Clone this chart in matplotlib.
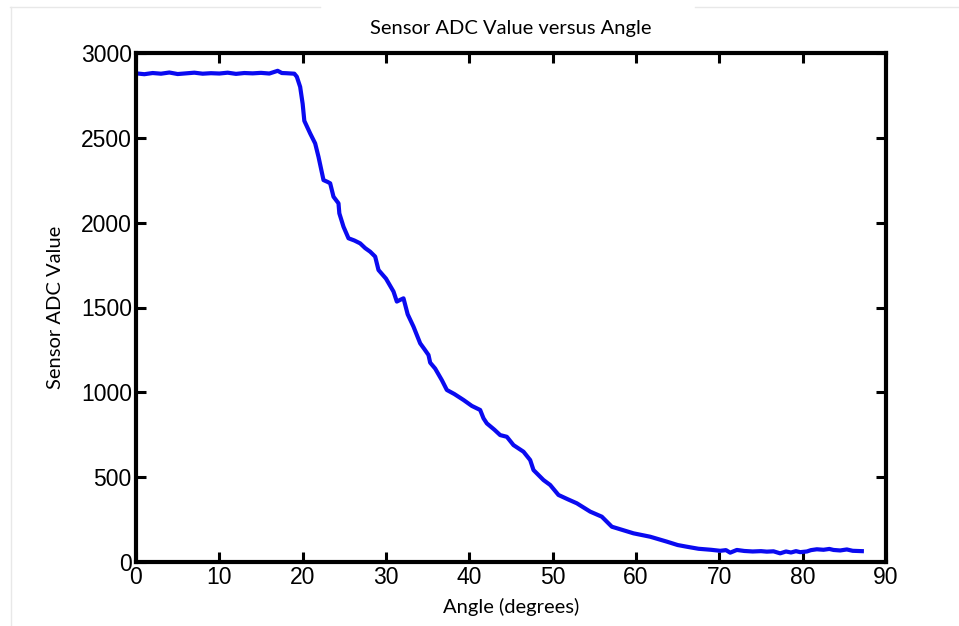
import matplotlib
matplotlib.use("Agg")
import matplotlib.pyplot as plt
from matplotlib.lines import Line2D

angle = [0, 1, 2, 3, 4, 5, 6, 7, 8, 9, 10, 11, 12, 13, 14, 15, 16, 17, 17.5, 18, 19,
         19.3, 19.7, 20.0, 20.2, 20.9, 21.5, 21.9, 22.5, 23.0, 23.3, 23.7, 24.3, 24.4,
         24.9, 25.5, 26.2, 26.9, 27.5, 28.1, 28.7, 29.1, 30.0, 30.9, 31.3, 31.7, 32.1,
         32.6, 33.3, 34.1, 34.6, 35.1, 35.3, 35.9, 36.7, 37.3, 38.2, 39.3, 40.3, 41.3,
         41.7, 42.1, 43.0, 43.7, 44.5, 45.3, 46.5, 47.3, 47.7, 48.9, 49.7, 50.7, 51.8,
         52.9, 54.5, 55.9, 57.1, 58.3, 59.7, 61.7, 63.7, 65.0, 66.1, 67.5, 69.0, 70.1,
         70.8, 71.3, 72.1, 73.0, 74.0, 75.0, 75.7, 76.5, 77.3, 78.0, 78.6, 79.2, 79.7,
         80.5, 81.0, 81.7, 82.5, 83.2, 83.7, 84.5, 85.3, 86.0, 87.1]
adc = [2880, 2875, 2882, 2878, 2885, 2876, 2880, 2884, 2878, 2881, 2879, 2884, 2877,
       2882, 2880, 2883, 2879, 2895, 2882, 2881, 2878,
       2860, 2800, 2700, 2600, 2526, 2467, 2388, 2251, 2240, 2232, 2153, 2114, 2055,
       1976, 1908, 1895, 1878, 1850, 1829, 1800, 1721, 1670, 1594, 1535, 1545, 1554,
       1460, 1387, 1289, 1255, 1220, 1175, 1140, 1072, 1014, 990, 955, 920, 896,
       847, 817, 780, 748, 738, 689, 650, 601, 542, 483, 454, 395, 370,
       346, 297, 267, 208, 190, 169, 149, 120, 100, 90, 78, 72, 66,
       70, 55, 71, 65, 62, 64, 61, 63, 51, 62, 56, 64, 58,
       62, 70, 75, 72, 77, 71, 68, 74, 66, 64]

xticks = [0, 10, 20, 30, 40, 50, 60, 70, 80, 90]
yticks = [0, 500, 1000, 1500, 2000, 2500, 3000]

fig = plt.figure(figsize=(9.59, 6.26), dpi=100)
ax = fig.add_axes([136/959, 64/626, 750/959, 509/626])
ax.plot(angle, adc, color="#0a0af0", linewidth=3.0, solid_joinstyle="round")
ax.set_xlim(0, 90)
ax.set_ylim(0, 3000)
ax.set_xticks(xticks)
ax.set_yticks(yticks)
tickfont = ["Liberation Sans Narrow", "Liberation Sans", "DejaVu Sans"]
ax.set_xticklabels([str(t) for t in xticks], family=tickfont, fontsize=16.5)
ax.set_yticklabels([str(t) for t in yticks], family=tickfont, fontsize=16.5)
ax.tick_params(direction="in", length=7, width=2.2, top=True, right=True, pad=3)
for s in ax.spines.values():
    s.set_linewidth(3)
lblfont = ["Lato", "DejaVu Sans"]
ax.set_title("Sensor ADC Value versus Angle", family=lblfont, fontsize=14.5, pad=14)
ax.set_xlabel("Angle (degrees)", family=lblfont, fontsize=14.5, labelpad=6)
ax.set_ylabel("Sensor ADC Value", family=lblfont, fontsize=14.5, labelpad=12)

# faint frame from the source screenshot
fig.add_artist(Line2D([10/959, 320/959], [1 - 7/626, 1 - 7/626], color="#e8e8e8", lw=1))
fig.add_artist(Line2D([695/959, 1.0], [1 - 7/626, 1 - 7/626], color="#e8e8e8", lw=1))
fig.add_artist(Line2D([11/959, 11/959], [0, 1 - 7/626], color="#e8e8e8", lw=1))

fig.savefig("out.png", dpi=100)
